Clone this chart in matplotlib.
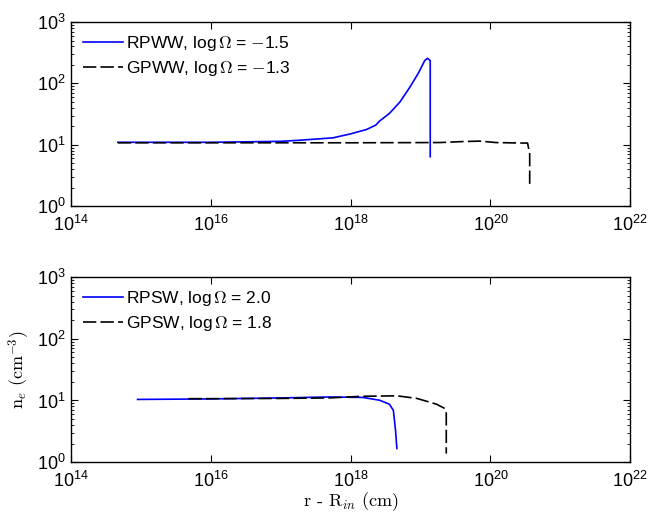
import numpy as np
import matplotlib
matplotlib.use('Agg')
import matplotlib.pyplot as plt
from matplotlib.ticker import LogLocator, NullFormatter

plt.rcParams['font.family'] = ['Liberation Sans', 'DejaVu Sans']
plt.rcParams['mathtext.fontset'] = 'cm'

# Panel superior: RPWW / GPWW
r_rpww = [4.7e14, 1e16, 1e17, 1.9e17, 5.6e17, 9.8e17, 1.7e18, 2.3e18, 2.6e18, 3.6e18,
          5.1e18, 7.1e18, 9.3e18, 1.15e19, 1.26e19, 1.38e19, 1.38e19]
n_rpww = [11.0, 11.0, 11.4, 11.9, 13.0, 15.0, 17.8, 21.0, 24.4, 32.5,
          50.0, 88.0, 146.0, 235.0, 257.0, 235.0, 6.4]

r_gpww = [4.7e14, 1e16, 1e18, 1.9e19, 4e19, 7.1e19, 1.2e20, 2.6e20, 3.4e20, 3.65e20, 3.65e20]
n_gpww = [10.8, 10.8, 10.8, 10.9, 11.3, 11.5, 10.9, 10.7, 10.7, 7.2, 2.07]

# Panel inferior: RPSW / GPSW
r_rpsw = [9e14, 1e16, 1e17, 5e17, 1.5e18, 2.6e18, 3.6e18, 4.1e18, 4.4e18, 4.6e18]
n_rpsw = [10.4, 10.6, 11.0, 11.4, 11.2, 10.1, 8.7, 6.9, 3.3, 1.67]

r_gpsw = [4.8e15, 1e16, 1e17, 5e17, 1.5e18, 4.6e18, 8.9e18, 1.7e19, 2.24e19, 2.34e19, 2.34e19]
n_gpsw = [10.7, 10.7, 10.8, 11.0, 11.7, 11.9, 10.8, 8.7, 7.4, 6.2, 1.38]

fig = plt.figure(figsize=(6.62, 5.13), dpi=100)
ax1 = fig.add_axes([0.107, 0.598, 0.845, 0.359])
ax2 = fig.add_axes([0.107, 0.099, 0.845, 0.361])

def estilo(ax):
    ax.set_xscale('log')
    ax.set_yscale('log')
    ax.set_xlim(1e14, 1e22)
    ax.set_ylim(1, 1e3)
    ax.set_xticks([1e14, 1e16, 1e18, 1e20, 1e22])
    ax.xaxis.set_minor_locator(plt.NullLocator())
    ax.yaxis.set_minor_locator(LogLocator(base=10, subs=np.arange(2, 10)))
    ax.yaxis.set_minor_formatter(NullFormatter())
    ax.tick_params(which='both', direction='in', top=True, right=True, labelsize=13)
    ax.tick_params(which='major', length=5, width=0.8)
    ax.tick_params(which='minor', length=2.5, width=0.6)
    ax.tick_params(axis='x', pad=6)
    for s in ax.spines.values():
        s.set_linewidth(1.0)

ax1.plot(r_rpww, n_rpww, color='#0000ff', lw=1.2, label=r'RPWW, log$\,\Omega$ = $-$1.5')
ax1.plot(r_gpww, n_gpww, color='black', lw=1.2, dashes=(8, 2.5), label=r'GPWW, log$\,\Omega$ = $-$1.3')
estilo(ax1)
ax1.legend(loc='upper left', frameon=False, fontsize=12.5, handlelength=2.3,
           handletextpad=0.2, borderaxespad=0.3, labelspacing=0.35)

ax2.plot(r_rpsw, n_rpsw, color='#0000ff', lw=1.2, label=r'RPSW, log$\,\Omega$ = 2.0')
ax2.plot(r_gpsw, n_gpsw, color='black', lw=1.2, dashes=(8, 2.5), label=r'GPSW, log$\,\Omega$ = 1.8')
estilo(ax2)
ax2.legend(loc='upper left', frameon=False, fontsize=12.5, handlelength=2.3,
           handletextpad=0.2, borderaxespad=0.3, labelspacing=0.35)

ax2.set_xlabel(r'r - R$_{in}$ (cm)', fontsize=13, labelpad=0, family='cmr10')
ax2.set_ylabel(r'$\mathrm{n}_e\ (\mathrm{cm}^{-3})$', fontsize=13, labelpad=4)

fig.savefig('out.png', dpi=100)
